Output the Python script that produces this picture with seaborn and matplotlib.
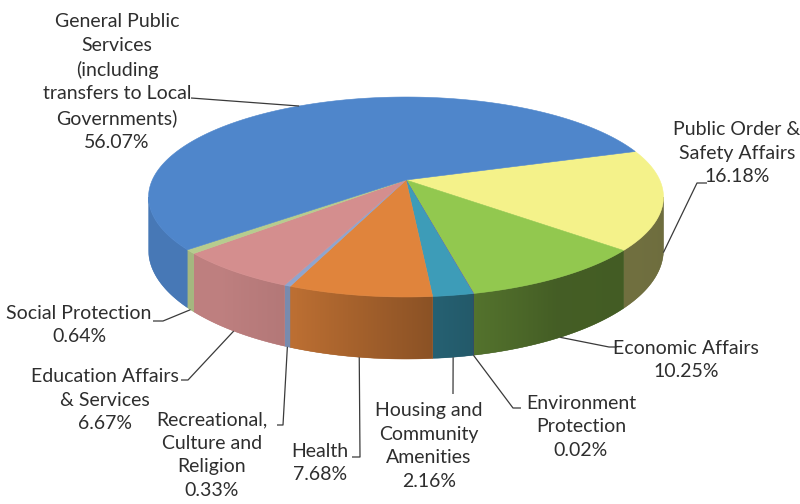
import numpy as np
import matplotlib
matplotlib.use("Agg")
import matplotlib.pyplot as plt
import seaborn as sns
from matplotlib.patches import Polygon

# ---- data -------------------------------------------------------------
categories = [
    "Public Order &\nSafety Affairs",
    "Economic Affairs",
    "Environment\nProtection",
    "Housing and\nCommunity\nAmenities",
    "Health",
    "Recreational,\nCulture and\nReligion",
    "Education Affairs\n& Services",
    "Social Protection",
    "General Public\nServices\n(including\ntransfers to Local\nGovernments)",
]
shares = [16.18, 10.25, 0.02, 2.16, 7.68, 0.33, 6.67, 0.64, 56.07]
top_colors = ["#F4F28A", "#92C84F", "#8064A2", "#3D9CB8", "#E0843C",
              "#8FA5CF", "#D48E8E", "#B7CC8E", "#4F86CB"]

# ---- styling ------------------------------------------------------------
sns.set_theme(style="white")
plt.rcParams["font.family"] = ["Lato", "DejaVu Sans"]
TEXT_COLOR = "#2e2e2e"
LINE_COLOR = "#3a3a3a"

# perspective view of the pie disc (pixel space)
CX, CY = 406.0, 180.0      # projected centre of the top face
AX_, BY_ = 253.7, 97.1     # horizontal / vertical radii
PERSP = 0.17               # foreshortening towards the back
DEPTH = 51.5               # thickness of the disc
START = 18                 # start angle of the first slice


def project(X, Y):
    X = np.asarray(X, float)
    Y = np.asarray(Y, float)
    w = 1.0 + PERSP * Y
    return CX + AX_ * X / w, CY - BY_ * Y / w


def depth_at(Y):
    return DEPTH / (1.0 + PERSP * np.asarray(Y, float))


def shade(t_deg):
    # side walls get darker towards the right
    return np.interp(t_deg, [-190, -130, -112, -85, -60, -10],
                     [0.90, 0.90, 0.84, 0.62, 0.47, 0.45])


fig = plt.figure(figsize=(8, 5.04), dpi=100)
ax = fig.add_axes([0, 0, 1, 1])

wedges, _ = ax.pie(shares, startangle=START, counterclock=False,
                   radius=1, center=(0, 0), colors=top_colors,
                   wedgeprops=dict(linewidth=0))

vis_lo = 180 + np.degrees(np.arcsin(PERSP))
vis_hi = 360 - np.degrees(np.arcsin(PERSP))

side_specs, top_specs = [], []
for w, col in zip(wedges, top_colors):
    rgb = np.array(matplotlib.colors.to_rgb(col))
    t1, t2 = w.theta1, w.theta2
    for shift in (-360, 0, 360):
        a, b = max(t1 + shift, vis_lo), min(t2 + shift, vis_hi)
        if b > a:
            side_specs.append((a, b, rgb))
    th = np.radians(np.linspace(t1, t2, max(4, int((t2 - t1) * 2) + 2)))
    cx0, cy0 = w.center
    X = np.concatenate([[cx0], cx0 + w.r * np.cos(th)])
    Y = np.concatenate([[cy0], cy0 + w.r * np.sin(th)])
    top_specs.append((X, Y, col))
    w.remove()

ax.set_xlim(0, 800)
ax.set_ylim(504, 0)

# side walls: gradient clipped to each slice's outer wall
for a, b, rgb in side_specs:
    ts = np.linspace(a, b, max(3, int((b - a) * 3) + 3))
    rr = np.radians(ts)
    px, py = project(np.cos(rr), np.sin(rr))
    d = depth_at(np.sin(rr))
    verts = np.vstack([np.column_stack([px, py]),
                       np.column_stack([px[::-1], (py + d)[::-1]])])
    mean_col = np.clip(rgb * shade(0.5 * (a + b) - 360), 0, 1)
    base = Polygon(verts, closed=True, facecolor=mean_col,
                   edgecolor=mean_col, linewidth=0.3, zorder=1)
    ax.add_patch(base)
    x0, x1 = verts[:, 0].min(), verts[:, 0].max()
    y0, y1 = verts[:, 1].min(), verts[:, 1].max()
    ncol = max(2, int(x1 - x0) + 2)
    xs = np.linspace(x0, x1, ncol)
    t_of_x = np.interp(xs, px, ts)
    row = np.clip(rgb[None, :] * shade(t_of_x - 360)[:, None], 0, 1)
    img = np.repeat(row[None, :, :], 2, axis=0)
    im = ax.imshow(img, extent=(x0, x1, y1, y0), aspect="auto",
                   interpolation="bilinear", zorder=1.1)
    im.set_clip_path(base)

# top faces: projected pie wedges
for X, Y, col in top_specs:
    px, py = project(X, Y)
    ax.add_patch(Polygon(np.column_stack([px, py]), closed=True,
                         facecolor=col, edgecolor=col, linewidth=0.4,
                         zorder=2))

ax.set_aspect("auto")
ax.set_xlim(0, 800)
ax.set_ylim(504, 0)
ax.axis("off")

# ---- labels and leader lines ------------------------------------------
label_pos = [(737, 153), (686, 360), (581, 427), (429, 446), (320, 463),
             (212, 455), (105, 400), (79, 325), (117, 82)]
leader_pts = [
    [(707, 183), (697, 183)],
    [(617, 347), (609, 347)],
    [(521, 408), (513, 408)],
    [(453, 394)],
    [(352, 457), (360, 457)],
    [(277, 425), (283, 425)],
    [(181, 380), (188, 380)],
    [(153, 321), (163, 321)],
    [(191, 98)],
]

for w, cat, val, (tx, ty), pts in zip(wedges, categories, shares,
                                      label_pos, leader_pts):
    mid = np.radians(0.5 * (w.theta1 + w.theta2))
    X, Y = np.cos(mid), np.sin(mid)
    axp, ayp = project(X, Y)
    if Y < 0:
        ayp = ayp + depth_at(Y)
    xs = [p[0] for p in pts] + [float(axp)]
    ys = [p[1] for p in pts] + [float(ayp)]
    ax.plot(xs, ys, color=LINE_COLOR, lw=0.9, zorder=3,
            solid_capstyle="butt")
    ax.text(tx, ty, f"{cat}\n{val:.2f}%", ha="center", va="center",
            multialignment="center", fontsize=14, linespacing=1.47,
            color=TEXT_COLOR, zorder=4)

fig.savefig("out.png", dpi=100)
